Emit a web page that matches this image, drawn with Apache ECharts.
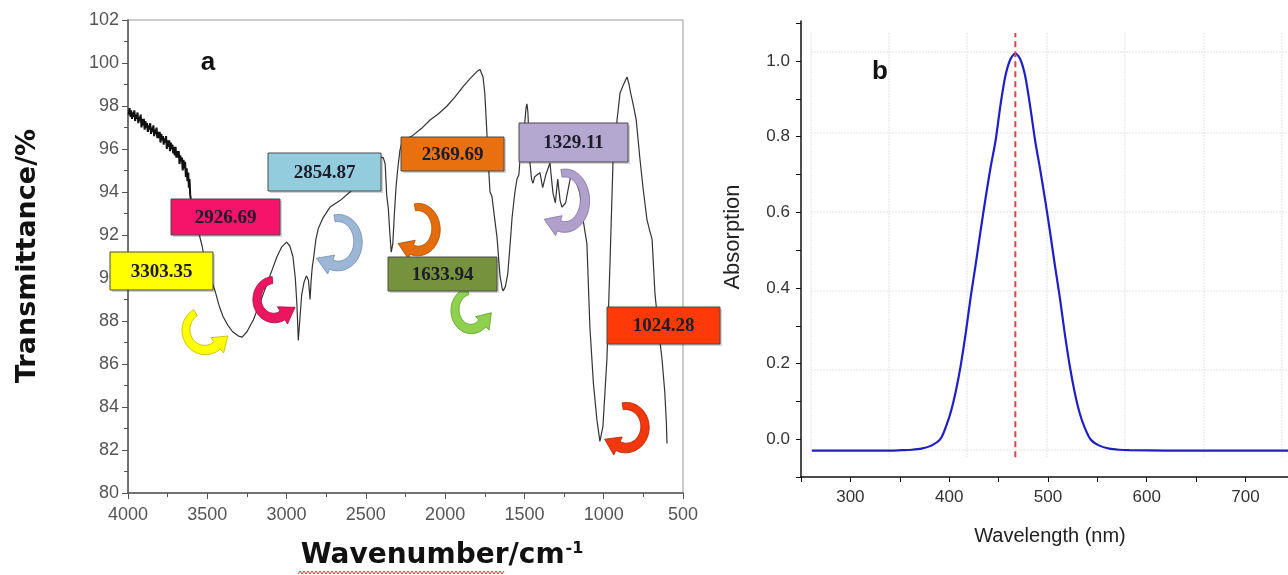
<!DOCTYPE html>
<html>
<head>
<meta charset="utf-8">
<script src="https://cdn.jsdelivr.net/npm/echarts@6/dist/echarts.min.js"></script>
<style>
  html, body { margin: 0; padding: 0; background: #fff; }
  #chart { width: 1288px; height: 575px; }
</style>
</head>
<body>
<div id="chart"></div>
<script>
// ---- FTIR spectrum: wavenumber (cm-1) and transmittance (%) ----
const ftirWavenumber = [
  3996, 3990, 3985, 3980, 3975, 3970, 3965, 3960, 3955, 3950,
  3945, 3940, 3935, 3930, 3925, 3920, 3915, 3910, 3905, 3900,
  3895, 3890, 3885, 3880, 3875, 3870, 3865, 3860, 3855, 3850,
  3845, 3840, 3835, 3830, 3825, 3820, 3815, 3810, 3805, 3800,
  3795, 3790, 3785, 3780, 3775, 3770, 3765, 3760, 3755, 3750,
  3745, 3740, 3735, 3730, 3725, 3720, 3715, 3710, 3705, 3700,
  3695, 3690, 3685, 3680, 3675, 3670, 3665, 3660, 3655, 3650,
  3645, 3640, 3635, 3630, 3625, 3620, 3616, 3612, 3608, 3603,
  3590, 3570, 3550, 3533, 3520, 3500, 3475, 3451,
  3425, 3400, 3370, 3340, 3303, 3280, 3250, 3210, 3165, 3120,
  3090, 3060, 3030, 3000, 2980, 2960, 2945, 2935, 2926, 2915,
  2905, 2890, 2875, 2862, 2852, 2845, 2838, 2830, 2815, 2800,
  2770, 2726, 2663, 2600, 2540, 2480, 2430, 2411, 2390, 2378,
  2369, 2358, 2348, 2340, 2330, 2320, 2310, 2300, 2285, 2266,
  2240, 2209, 2150, 2095, 2040, 1988, 1940, 1887, 1840, 1800,
  1780, 1761, 1750, 1742, 1735, 1725, 1717, 1705, 1690, 1673,
  1654, 1640, 1634, 1620, 1605, 1590, 1578, 1560, 1547, 1535,
  1528, 1505, 1490, 1484, 1478, 1470, 1465, 1455, 1446, 1436,
  1420, 1402, 1385, 1365, 1339, 1329, 1320, 1305, 1290, 1275,
  1263, 1240, 1220, 1200, 1185, 1170, 1150, 1130, 1106, 1087,
  1065, 1043, 1024, 1005, 980, 960, 941, 916, 897, 875,
  853, 840, 830, 815, 795, 771, 752, 727, 710, 695,
  677, 660, 632, 615, 605, 601
];
const ftirTransmittance = [
  97.6, 97.9, 97.5, 97.8, 97.4, 97.7, 97.5, 97.8, 97.3, 97.6,
  97.4, 97.7, 97.2, 97.5, 97.3, 97.6, 97.0, 97.4, 97.1, 97.4,
  96.9, 97.3, 97.0, 97.2, 96.8, 97.1, 96.9, 97.2, 96.7, 97.0,
  96.8, 97.1, 96.6, 96.9, 96.7, 97.0, 96.5, 96.8, 96.5, 96.8,
  96.3, 96.7, 96.4, 96.6, 96.2, 96.5, 96.3, 96.6, 96.0, 96.4,
  96.1, 96.4, 95.9, 96.3, 96.0, 96.2, 95.8, 96.1, 95.7, 96.1,
  95.6, 95.9, 95.6, 95.9, 95.3, 95.7, 95.4, 95.6, 95.0, 95.5,
  95.1, 95.4, 94.7, 95.1, 94.5, 94.9, 94.2, 94.6, 93.9, 93.6,
  93.0, 92.4, 92.0, 91.5, 91.0, 90.4, 89.9, 89.4,
  88.7, 88.2, 87.8, 87.5, 87.3, 87.25, 87.5, 88.05, 88.9, 89.8,
  90.4, 91.0, 91.45, 91.67, 91.5, 91.0, 90.0, 88.8, 87.1, 88.2,
  89.2, 89.8, 90.1, 89.9, 89.0, 89.9, 90.5, 90.9, 91.8, 92.3,
  92.8, 93.3, 93.6, 94.0, 94.5, 95.0, 95.4, 95.6, 95.6, 95.3,
  93.9, 93.2, 92.0, 91.2, 91.6, 93.0, 94.2, 95.0, 95.95, 96.5,
  96.5, 96.6, 96.95, 97.35, 97.65, 98.0, 98.4, 98.9, 99.3, 99.6,
  99.7, 99.35, 98.6, 97.5, 96.5, 95.0, 94.0, 93.8, 92.9, 91.9,
  90.1, 89.5, 89.4, 89.6, 90.2, 91.6, 92.8, 94.0, 94.6, 94.8,
  95.5, 96.6, 97.9, 98.1, 97.7, 96.2, 95.35, 94.6, 94.4, 94.7,
  94.8, 94.9, 94.2, 94.8, 95.35, 94.6, 93.95, 93.5, 94.6, 93.6,
  93.3, 93.5, 94.3, 95.0, 94.9, 94.4, 93.95, 92.7, 91.6, 87.7,
  85.1, 83.4, 82.4, 83.1, 86.2, 90.8, 95.5, 97.35, 98.6, 99.0,
  99.35, 99.0, 98.6, 98.1, 97.35, 95.5, 94.2, 92.7, 92.2, 91.8,
  89.3, 88.0, 86.2, 84.7, 83.3, 82.3
];
// wavenumber above which the recorded trace is noisy
const noisyAbove = 3603;
// band positions annotated on the spectrum
const bandLabels = ['3303.35', '2926.69', '2854.87', '2369.69', '1633.94', '1329.11', '1024.28'];

// ---- UV-Vis absorption: wavelength (nm) and absorbance ----
const uvWavelength = [
  261, 300, 340, 352, 362, 372, 382, 391, 397, 402,
  407, 412, 417, 422, 427, 432, 437, 442, 447, 452,
  457, 462, 467, 472, 477, 482, 487, 492, 497, 502,
  507, 512, 517, 522, 527, 532, 537, 543, 552, 562,
  572, 582, 620, 680, 745
];
const uvAbsorption = [
  -0.03, -0.03, -0.03, -0.029, -0.028, -0.025, -0.017, 0.0, 0.035, 0.075,
  0.13, 0.2, 0.285, 0.38, 0.465, 0.555, 0.64, 0.72, 0.79, 0.885,
  0.962, 1.005, 1.02, 1.005, 0.96, 0.88, 0.79, 0.715, 0.635, 0.55,
  0.46, 0.375, 0.28, 0.195, 0.125, 0.07, 0.032, 0.0, -0.017, -0.025,
  -0.028, -0.029, -0.03, -0.03, -0.03
];
const peakWavelength = 467;
const peakMarkerRange = [-0.048, 1.074];

const ftirPairs = ftirWavenumber.map((w, i) => [w, ftirTransmittance[i]]);
const ftirNoisy = ftirPairs.filter(p => p[0] >= noisyAbove);
const ftirSmooth = ftirPairs.filter(p => p[0] <= noisyAbove);
const uvData = uvWavelength.map((w, i) => [w, uvAbsorption[i]]);
const peakLine = peakMarkerRange.map(v => [peakWavelength, v]);

// ---- annotation helpers ----
// curved block arrow along an elliptical arc (angles in degrees, screen orientation)
function curvedArrow(cx, cy, rx, ry, a0, a1, w, headLen, headW, fill, stroke) {
  const rad = d => d * Math.PI / 180;
  const dir = a1 > a0 ? 1 : -1;
  const n = 32;
  const at = (t, off) => [cx + (rx + off) * Math.cos(t), cy + (ry + off) * Math.sin(t)];
  const outer = [], inner = [];
  for (let i = 0; i <= n; i++) {
    const t = rad(a0 + (a1 - a0) * i / n);
    const half = (w / 2) * (0.7 + 0.3 * i / n);
    outer.push(at(t, half));
    inner.push(at(t, -half));
  }
  const te = rad(a1);
  const b = at(te, 0);
  let tx = -rx * Math.sin(te) * dir, ty = ry * Math.cos(te) * dir;
  const len = Math.hypot(tx, ty); tx /= len; ty /= len;
  const pts = outer.slice();
  pts.push(at(te, headW / 2));
  pts.push([b[0] + tx * headLen, b[1] + ty * headLen]);
  pts.push(at(te, -headW / 2));
  for (let i = inner.length - 1; i >= 0; i--) pts.push(inner[i]);
  return {
    type: 'polygon', z: 90,
    shape: { points: pts },
    style: { fill: fill, stroke: stroke, lineWidth: 0.8 }
  };
}

function labelBox(x, y, w, h, text, fill) {
  return [
    { type: 'rect', z: 95, shape: { x: x + 2, y: y + 2, width: w, height: h },
      style: { fill: 'rgba(0,0,0,0.18)' } },
    { type: 'rect', z: 96, shape: { x: x, y: y, width: w, height: h },
      style: { fill: fill, stroke: '#4a4a4a', lineWidth: 1 } },
    { type: 'text', z: 97, x: x + w / 2, y: y + h / 2 + 1,
      style: { text: text, align: 'center', verticalAlign: 'middle',
               font: 'bold 19px "Liberation Serif", "Times New Roman", serif', fill: '#1c1c2a' } }
  ];
}

const graphics = [];
// band label boxes
const boxLayout = [
  [110, 252, 103, 38, '#ffff00'],
  [171, 199, 109, 36, '#f5146a'],
  [268, 153, 113, 38, '#93cddd'],
  [401, 137, 103, 34, '#e8700f'],
  [388, 257, 109, 34, '#76923c'],
  [519, 123, 109, 39, '#b4a7d0'],
  [607, 307, 113, 37, '#ff3a06']
];
boxLayout.forEach((b, i) => graphics.push(...labelBox(b[0], b[1], b[2], b[3], bandLabels[i], b[4])));

// curved pointer arrows
graphics.push(curvedArrow(205, 330, 19, 20, 240, 50, 10, 14, 20, '#ffff00', '#b8b800'));
graphics.push(curvedArrow(274, 299, 17, 19, 265, 60, 10, 15, 20, '#ec1660', '#a0103f'));
graphics.push(curvedArrow(338, 242, 20, 24, -100, 110, 10, 16, 20, '#9db6d6', '#6f8aae'));
graphics.push(curvedArrow(418, 229, 18, 22, -100, 110, 10, 15, 20, '#e46c0a', '#a84d05'));
graphics.push(curvedArrow(471, 310, 16, 19, 260, 45, 10, 14, 19, '#8fd14f', '#5e9a2a'));
graphics.push(curvedArrow(565, 200, 20, 27, -100, 108, 11, 16, 21, '#b0a0cc', '#7f6ea3'));
graphics.push(curvedArrow(626, 427, 19, 21, -100, 115, 10, 15, 20, '#f2380c', '#a82306'));

// panel letters
graphics.push({ type: 'text', z: 99, x: 208, y: 63,
  style: { text: 'a', align: 'center', verticalAlign: 'middle',
           font: 'bold 26px "Liberation Sans", Arial, sans-serif', fill: '#111' } });
graphics.push({ type: 'text', z: 99, x: 880, y: 72,
  style: { text: 'b', align: 'center', verticalAlign: 'middle',
           font: 'bold 26px "Liberation Sans", Arial, sans-serif', fill: '#111' } });

// axis titles of the FTIR panel
graphics.push({ type: 'text', z: 99, x: 28, y: 256, rotation: Math.PI / 2,
  style: { text: 'Transmittance/%', align: 'center', verticalAlign: 'middle',
           font: 'bold 27px "DejaVu Sans", Verdana, sans-serif', fill: '#111' } });
graphics.push({ type: 'text', z: 99, x: 442, y: 556,
  style: { text: '{t|Wavenumber/cm}{s|-1}', align: 'center', verticalAlign: 'middle',
           rich: {
             t: { font: 'bold 28px "DejaVu Sans", Verdana, sans-serif', fill: '#111' },
             s: { font: 'bold 16px "DejaVu Sans", Verdana, sans-serif', fill: '#111', verticalAlign: 'top', padding: [0, 0, 14, 1] }
           } } });
// wavy proofing underline beneath the x title
(function () {
  const pts = [];
  for (let x = 298, k = 0; x <= 505; x += 2, k++) pts.push([x, k % 2 ? 571 : 574]);
  graphics.push({ type: 'polyline', z: 98, shape: { points: pts },
    style: { stroke: '#e23a3a', lineWidth: 1, fill: null } });
})();

// light background grid of the absorption panel
[811, 889, 967, 1047, 1125, 1204, 1282].forEach(x => graphics.push({
  type: 'line', z: 0, shape: { x1: x, y1: 33, x2: x, y2: 457 },
  style: { stroke: '#e3e3e3', lineWidth: 1, lineDash: [2, 1] } }));
[52, 133, 212, 291, 370, 450].forEach(y => graphics.push({
  type: 'line', z: 0, shape: { x1: 811, y1: y, x2: 1288, y2: y },
  style: { stroke: '#e3e3e3', lineWidth: 1, lineDash: [2, 1] } }));

// axis titles of the absorption panel
graphics.push({ type: 'text', z: 99, x: 733, y: 237, rotation: Math.PI / 2,
  style: { text: 'Absorption', align: 'center', verticalAlign: 'middle',
           font: '22px "Liberation Sans", Arial, sans-serif', fill: '#222' } });
graphics.push({ type: 'text', z: 99, x: 1050, y: 536,
  style: { text: 'Wavelength (nm)', align: 'center', verticalAlign: 'middle',
           font: '20px "Liberation Sans", Arial, sans-serif', fill: '#222' } });

const tickFontA = { fontFamily: '"Liberation Sans", Arial, sans-serif', fontSize: 18, color: '#555' };
const tickFontB = { fontFamily: '"Liberation Sans", Arial, sans-serif', fontSize: 17, color: '#333' };

const chart = echarts.init(document.getElementById('chart'), null, { renderer: 'canvas' });
chart.setOption({
  animation: false,
  backgroundColor: '#fff',
  grid: [
    { left: 128, top: 20, right: 605, bottom: 82, show: true, borderColor: '#9a9a9a', borderWidth: 1, backgroundColor: 'transparent' },
    { left: 801, top: 21, right: 0, bottom: 98 }
  ],
  xAxis: [
    {
      gridIndex: 0, type: 'value', inverse: true, min: 500, max: 4000, interval: 500,
      axisLine: { show: true, lineStyle: { color: '#555', width: 1.5 } },
      axisTick: { show: true, length: 6, lineStyle: { color: '#555' } },
      minorTick: { show: true, splitNumber: 2, length: 4, lineStyle: { color: '#555' } },
      splitLine: { show: false },
      axisLabel: Object.assign({ margin: 13, formatter: v => String(v) }, tickFontA)
    },
    {
      gridIndex: 1, type: 'value', min: 250, max: 743, interval: 50,
      axisLine: { show: true, onZero: false, lineStyle: { color: '#111', width: 1.5 } },
      axisTick: { show: true, length: 5, lineStyle: { color: '#111' } },
      splitLine: { show: false },
      axisLabel: Object.assign({ margin: 12, showMaxLabel: false,
        formatter: v => (v % 100 === 0 ? String(v) : '') }, tickFontB)
    }
  ],
  yAxis: [
    {
      gridIndex: 0, type: 'value', min: 80, max: 102, interval: 2,
      axisLine: { show: true, lineStyle: { color: '#555', width: 1.5 } },
      axisTick: { show: true, length: 6, lineStyle: { color: '#555' } },
      minorTick: { show: true, splitNumber: 2, length: 4, lineStyle: { color: '#555' } },
      splitLine: { show: false },
      axisLabel: Object.assign({ margin: 9, formatter: v => String(v) }, tickFontA)
    },
    {
      gridIndex: 1, type: 'value', min: -0.1, max: 1.106, interval: 0.1,
      axisLine: { show: true, onZero: false, lineStyle: { color: '#111', width: 1.5 } },
      axisTick: { show: true, length: 5, lineStyle: { color: '#111' } },
      splitLine: { show: false },
      axisLabel: Object.assign({ margin: 11, showMaxLabel: false,
        formatter: v => (Math.round(v * 10) % 2 === 0 ? v.toFixed(1) : '') }, tickFontB)
    }
  ],
  graphic: graphics,
  series: [
    {
      type: 'line', xAxisIndex: 0, yAxisIndex: 0, data: ftirNoisy,
      showSymbol: false, smooth: false, z: 5,
      lineStyle: { color: '#111', width: 2 }
    },
    {
      type: 'line', xAxisIndex: 0, yAxisIndex: 0, data: ftirSmooth,
      showSymbol: false, smooth: false, z: 5,
      lineStyle: { color: '#333', width: 1.2 }
    },
    {
      type: 'line', xAxisIndex: 1, yAxisIndex: 1, data: uvData,
      showSymbol: false, smooth: 0.3, z: 5,
      lineStyle: { color: '#1f1fc4', width: 2.2 }
    },
    {
      type: 'line', xAxisIndex: 1, yAxisIndex: 1, data: peakLine,
      showSymbol: false, z: 6,
      lineStyle: { color: '#d04848', width: 2, type: [6, 4] }
    }
  ]
});
</script>
</body>
</html>
